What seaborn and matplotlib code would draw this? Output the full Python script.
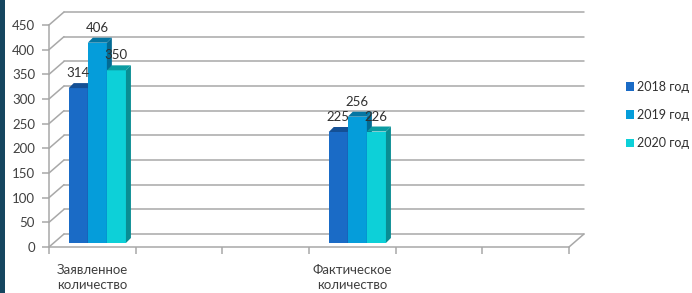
import numpy as np
import pandas as pd
import seaborn as sns
import matplotlib.pyplot as plt
from matplotlib.patches import Polygon, Rectangle, Patch
from matplotlib.colors import to_rgb

categories = ["Заявленное\nколичество", "Фактическое\nколичество"]
years = ["2018 год", "2019 год", "2020 год"]
values_2018 = [314, 225]
values_2019 = [406, 256]
values_2020 = [350, 226]
yticks = [0, 50, 100, 150, 200, 250, 300, 350, 400, 450]

colors = ["#1a6bc6", "#059dda", "#0dd0d8"]
grid_c = "#a8a8a8"
text_c = "#404040"

# slots on the category axis (Excel left empty ones between the two groups)
order = [categories[0], " ", "  ", categories[1], "   ", "    "]

rows = []
for year, vals in zip(years, [values_2018, values_2019, values_2020]):
    for cat, v in zip(categories, vals):
        rows.append({"cat": cat, "year": year, "val": v})
df = pd.DataFrame(rows)

sns.set_style("white")
plt.rcParams["font.family"] = ["Lato", "DejaVu Sans"]

fig = plt.figure(figsize=(6.92, 2.93), dpi=100)
ax = fig.add_axes([49 / 692, 46 / 293, 520 / 692, 222 / 293])

sns.barplot(data=df, x="cat", y="val", hue="year", order=order,
            hue_order=years, palette=colors, width=0.66, saturation=1,
            legend=False, ax=ax)
ax.set_xlim(-0.5, 5.5)
ax.set_ylim(0, 450)

# pixel -> data helpers for the fake 3D depth
px_x = 6 / 520
px_y = 450 / 222
DX, DY = 15 * px_x, 13 * px_y      # wall depth
FX, FY = 5 * px_x, 4 * px_y        # front of the bars
BX, BY = 5 * px_x, 5 * px_y        # bar depth

# back wall grid + left wall diagonals
for t in yticks:
    ax.plot([-0.5 + DX, 5.5 + DX], [t + DY, t + DY], color=grid_c, lw=1.1,
            clip_on=False, zorder=1)
    ax.plot([-0.5, -0.5 + DX], [t, t + DY], color=grid_c, lw=1.1,
            clip_on=False, zorder=1)
ax.plot([5.5, 5.5 + DX], [0, DY], color=grid_c, lw=1.1, clip_on=False, zorder=1)

def darker(c, f):
    r, g, b = to_rgb(c)
    return (r * f, g * f, b * f)

for i, cont in enumerate(ax.containers):
    for bar in cont:
        h = bar.get_height()
        if np.isnan(h) or h == 0:
            continue
        bar.set_x(bar.get_x() + FX)
        bar.set_y(FY)
        bar.set_zorder(3 + i)
        bar.set_clip_on(False)
        bar.set_edgecolor("none")
        x0, x1 = bar.get_x(), bar.get_x() + bar.get_width()
        y0, y1 = FY, FY + h
        side = Polygon([(x1, y0), (x1 + BX, y0 + BY), (x1 + BX, y1 + BY), (x1, y1)],
                       closed=True, fc=darker(colors[i], 0.68), ec="none",
                       zorder=3 + i, clip_on=False)
        top = Polygon([(x0, y1), (x1, y1), (x1 + BX, y1 + BY), (x0 + BX, y1 + BY)],
                      closed=True, fc=darker(colors[i], 0.75), ec="none",
                      zorder=3 + i, clip_on=False)
        ax.add_patch(side)
        ax.add_patch(top)
        ax.text((x0 + x1) / 2, y1 + BY + 4 * px_y, f"{int(h)}", ha="center",
                va="bottom", fontsize=9.5, color="#303030", zorder=10)

sns.despine(ax=ax, top=True, right=True)
for s in ["left", "bottom"]:
    ax.spines[s].set_color(grid_c)
    ax.spines[s].set_linewidth(1.1)
    ax.spines[s].set_zorder(1)

ax.set_yticks(yticks)
ax.set_yticklabels([str(t) for t in yticks])
ax.set_xticks(np.arange(-0.5, 6, 1))
ax.set_xticklabels([""] * 7)
ax.set_xticks([0, 3], minor=True)
ax.set_xticklabels(categories, minor=True, linespacing=1.35)
ax.tick_params(axis="y", length=5, width=1.1, color=grid_c, pad=5,
               labelsize=9.5, labelcolor=text_c, left=True)
ax.tick_params(axis="x", which="major", length=5, width=1.1, color=grid_c,
               bottom=True)
ax.tick_params(axis="x", which="minor", length=0, pad=12, labelsize=9.5,
               labelcolor=text_c)
ax.set_xlabel("")
ax.set_ylabel("")
ax.grid(False)

handles = [Patch(fc=c, ec="none") for c in colors]
fig.legend(handles, years, loc="center left",
           bbox_to_anchor=(626 / 692, 1 - 115 / 293), frameon=False,
           borderaxespad=0, borderpad=0,
           handlelength=0.65, handleheight=0.65, handletextpad=0.25,
           labelspacing=1.3, fontsize=9, labelcolor="#303030")

fig.patches.append(Rectangle((0, 0), 5 / 692, 1, transform=fig.transFigure,
                             fc="#15465f", ec="none", zorder=0))

fig.savefig("out.png", dpi=100)
